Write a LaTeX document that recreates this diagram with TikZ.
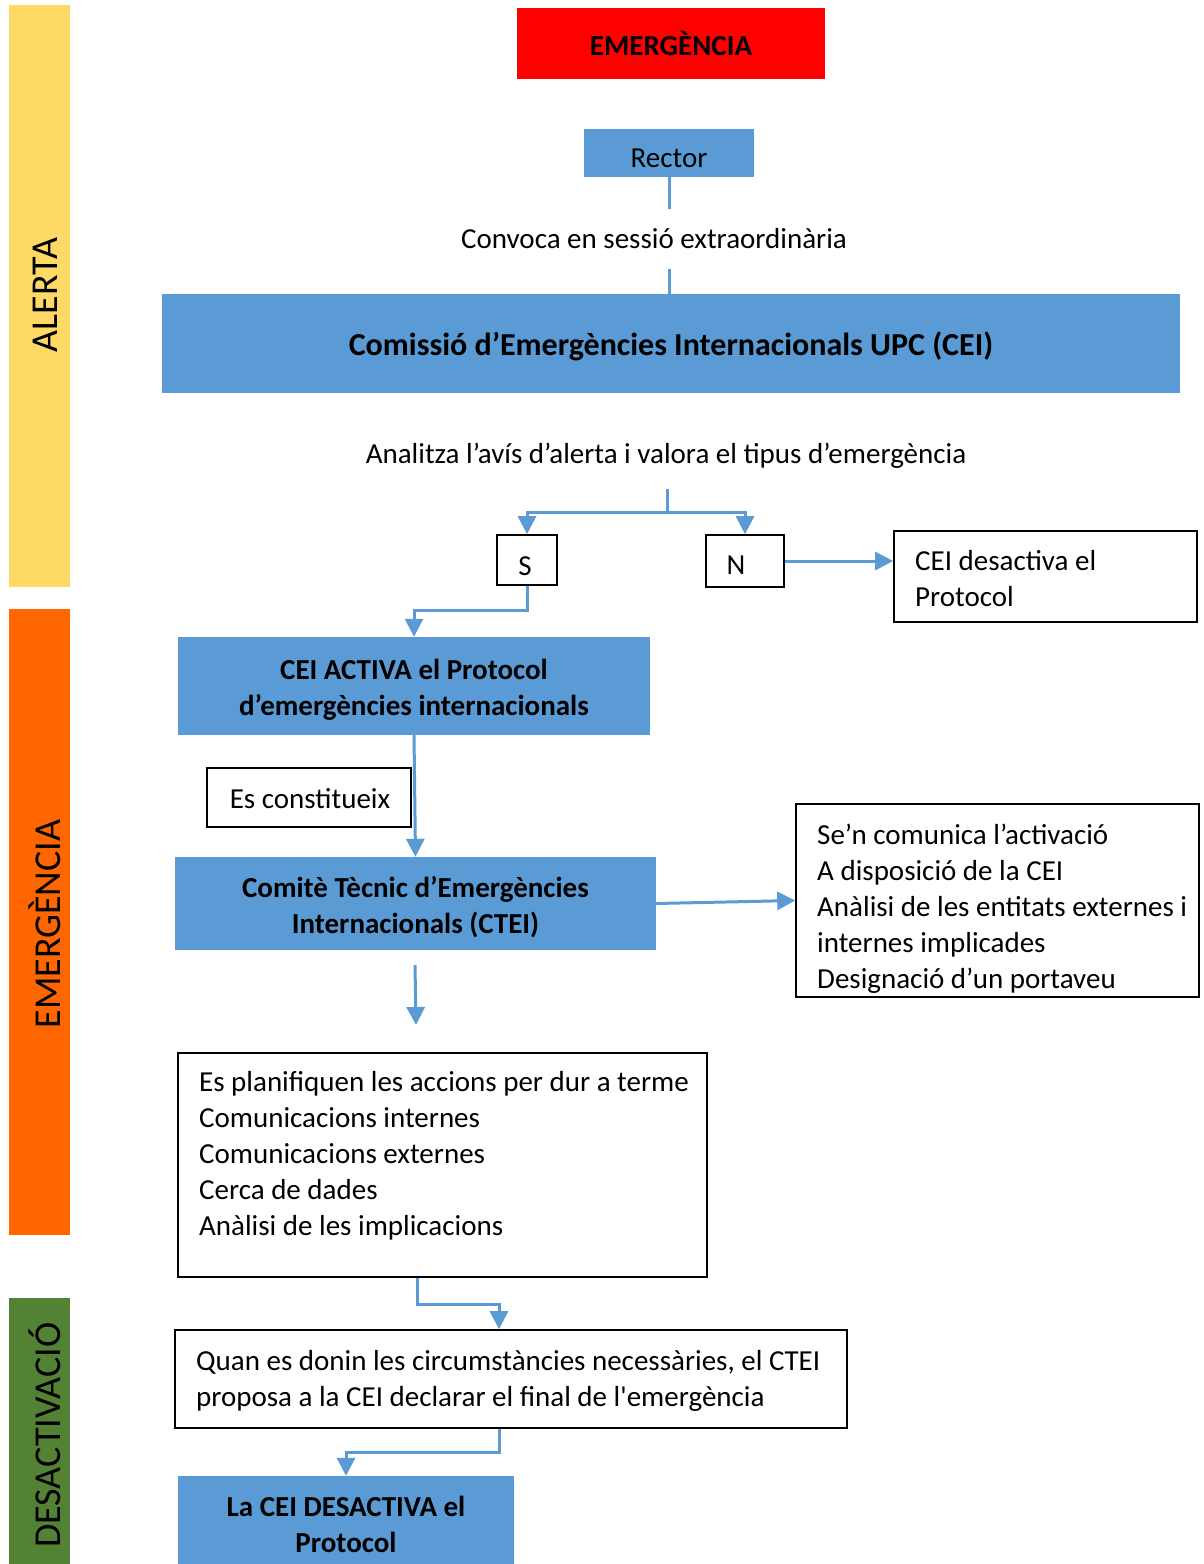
\documentclass[tikz,border=0pt]{standalone}
\usepackage{fontspec}
\setmainfont{Carlito}
\usetikzlibrary{arrows.meta}
\definecolor{cblue}{HTML}{5B9BD5}
\definecolor{cyellow}{HTML}{FFD966}
\definecolor{corange}{HTML}{FF6600}
\definecolor{cgreen}{HTML}{548235}
\tikzset{
  every node/.style={font=\fontsize{29}{36}\selectfont, inner sep=0pt},
  bluebox/.style={fill=cblue},
  wbox/.style={draw=black, line width=1.6pt, fill=white},
  conn/.style={draw=cblue, line width=3pt},
  arr/.style={conn, -{Triangle[width=18pt,length=18pt]}},
  band/.style={rotate=90, font=\fontsize{38}{40}\selectfont},
  lefttext/.style={anchor=west, align=left},
  ctext/.style={align=center, font=\fontsize{29}{36}\selectfont\bfseries},
}
\begin{document}
\begin{tikzpicture}[x=1pt,y=-1pt]
\useasboundingbox (0,0) rectangle (1203,1564);
% phase bands
\fill[cyellow] (9,5) rectangle (70,587);
\fill[corange] (9,609) rectangle (70,1235);
\fill[cgreen] (9,1298) rectangle (70,1564);
\node[band] (lalerta) at (45,295) {ALERTA};
\node[band] (lemerg) at (45,924) {EMERGÈNCIA};
\node[band] (ldesact) at (45,1435) {DESACTIVACIÓ};
% boxes
\node[bluebox, fill=red, minimum width=308pt, minimum height=71pt] (em) at (671,43.5) {};
\node[ctext] (emtext) at (671,43) {EMERGÈNCIA};
\node[bluebox, minimum width=170pt, minimum height=48pt] (rector) at (669,153) {};
\node (rectortext) at (669,158) {Rector};
\node[minimum height=60pt] (conv) at (654,239) {Convoca en sessió extraordinària};
\node[bluebox, minimum width=1018pt, minimum height=99pt] (cei) at (671,343.5) {};
\node[ctext, font=\fontsize{32}{36}\selectfont\bfseries] (ceitext) at (671,346) {Comissió d’Emergències Internacionals UPC (CEI)};
\node[minimum height=66pt] (anal) at (666,456) {Analitza l’avís d’alerta i valora el tipus d’emergència};
\node[wbox, minimum width=60pt, minimum height=50pt] (S) at (527,560) {};
\node (Stext) at (525,566) {S};
\node[wbox, minimum width=78pt, minimum height=52pt] (N) at (745,561) {};
\node (Ntext) at (736,565) {N};
\node[wbox, minimum width=303pt, minimum height=91pt] (des) at (1045.5,576.5) {};
\node[lefttext] (destext) at (915,579) {CEI desactiva el\\Protocol};
\node[bluebox, minimum width=472pt, minimum height=98pt] (act) at (414,686) {};
\node[ctext] (acttext) at (414,690) {CEI ACTIVA el Protocol\\d’emergències internacionals};
\node[wbox, minimum width=204pt, minimum height=59pt] (const) at (309,797.5) {};
\node (consttext) at (310,798.5) {Es constitueix};
\node[bluebox, minimum width=481pt, minimum height=93pt] (ctei) at (415.5,903.5) {};
\node[ctext] (cteitext) at (415.5,907) {Comitè Tècnic d’Emergències\\Internacionals (CTEI)};
\node[wbox, minimum width=403pt, minimum height=193pt] (rbox) at (997.5,900.5) {};
\node[lefttext] (rtext) at (817,909) {Se’n comunica l’activació\\A disposició de la CEI\\Anàlisi de les entitats externes i\\internes implicades\\Designació d’un portaveu};
\node[wbox, minimum width=529pt, minimum height=224pt] (plan) at (442.5,1165) {};
\node[lefttext] (plantext) at (199,1155.5) {Es planifiquen les accions per dur a terme\\Comunicacions internes\\Comunicacions externes\\Cerca de dades\\Anàlisi de les implicacions};
\node[wbox, minimum width=672pt, minimum height=98pt] (quan) at (511,1379) {};
\node[lefttext] (quantext) at (196,1381) {Quan es donin les circumstàncies necessàries, el CTEI\\proposa a la CEI declarar el final de l\textquotesingle emergència};
\node[bluebox, minimum width=336pt, minimum height=90pt] (deact) at (346,1521) {};
\node[ctext] (deacttext) at (346,1524) {La CEI DESACTIVA el\\Protocol};
\coordinate (free1) at (415,965);
\coordinate (free2) at (416,1025);
% connectors
\draw[conn] (rector.south) -- (rector.south |- conv.north);
\draw[conn] (rector.south |- conv.south) -- (rector.south |- cei.north);
\draw[conn] ([xshift=1pt]anal.south) -- ++(0,23) coordinate (br);
\draw[arr] (br) -| (S.north);
\draw[arr] (br) -| (N.north);
\draw[arr] (N.east) -- (N.east -| des.west);
\draw[arr] (S.south) -- ++(0,25) -| (act.north);
\draw[arr] (act.south) -- (ctei.north);
\draw[arr] (ctei.east) -- (rbox.west);
\draw[arr] (free1) -- (free2);
\draw[arr] ([xshift=-25.5pt]plan.south) -- ++(0,27) -| ([xshift=-12pt]quan.north);
\draw[arr] ([xshift=-12pt]quan.south) -- ++(0,24) -| (deact.north);
\end{tikzpicture}
\end{document}
